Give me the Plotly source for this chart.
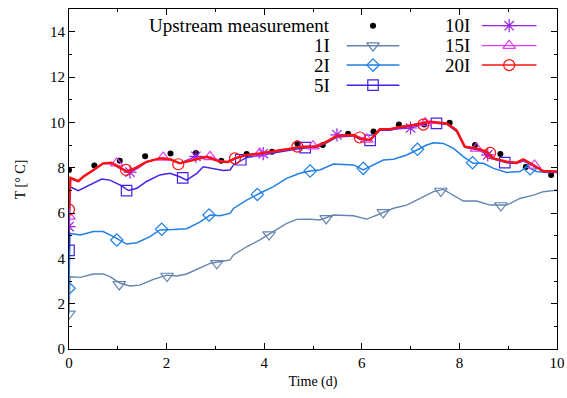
import plotly.graph_objects as go

FONT = "Liberation Serif"

# ---------------- data ----------------
up_x = [0, 0.52, 1.04, 1.56, 2.08, 2.6, 3.12, 3.64, 4.16, 4.68, 5.2, 5.72, 6.24, 6.76, 7.28, 7.8, 8.32, 8.84, 9.36, 9.88]
up_y = [7.9, 8.1, 8.3, 8.5, 8.62, 8.65, 8.3, 8.6, 8.7, 9.07, 9.0, 9.5, 9.6, 9.9, 9.9, 9.98, 9.0, 8.6, 8.03, 7.68]

i1_x = [0, 0.02, 0.23, 0.5, 0.7, 0.84, 1.05, 1.25, 1.45, 1.73, 2.0, 2.21, 2.41, 2.68, 2.89, 3.09, 3.3, 3.37, 3.64, 3.91,
        4.19, 4.46, 4.67, 4.94, 5.14, 5.42, 5.83, 6.1, 6.31, 6.51, 6.65, 6.92, 7.19, 7.47, 7.67, 7.88, 8.08, 8.35, 8.63,
        8.97, 9.24, 9.52, 9.72, 10.0]
i1_y = [1.55, 3.19, 3.16, 3.31, 3.31, 3.19, 2.9, 2.78, 2.82, 3.07, 3.26, 3.22, 3.31, 3.56, 3.78, 3.85, 3.93, 4.15, 4.51, 4.81,
        5.18, 5.54, 5.72, 5.73, 5.69, 5.91, 5.88, 5.73, 5.91, 6.1, 6.21, 6.35, 6.64, 6.94, 7.04, 6.79, 6.53, 6.53, 6.35,
        6.35, 6.64, 6.79, 6.94, 7.01]
i1_mx = [0, 1.03, 2.01, 3.03, 4.1, 5.27, 6.44, 7.62, 8.85]
i1_my = [1.55, 2.85, 3.22, 3.78, 5.05, 5.76, 6.03, 6.97, 6.33]

i2_x = [0, 0.02, 0.23, 0.5, 0.7, 0.91, 1.18, 1.39, 1.66, 1.86, 2.14, 2.41, 2.68, 2.89, 3.09, 3.3, 3.37, 3.64, 3.91, 4.19,
        4.46, 4.73, 4.94, 5.14, 5.42, 5.83, 6.03, 6.24, 6.44, 6.65, 6.92, 7.13, 7.33, 7.47, 7.67, 7.88, 8.08, 8.28, 8.49,
        8.7, 8.97, 9.24, 9.38, 9.58, 9.79, 10.0]
i2_y = [2.68, 5.1, 5.03, 5.18, 5.18, 4.96, 4.63, 4.69, 4.96, 5.25, 5.27, 5.31, 5.6, 5.91, 5.88, 5.98, 6.2, 6.57, 6.87, 7.16,
        7.53, 7.75, 7.85, 7.9, 8.16, 8.12, 7.9, 8.12, 8.34, 8.37, 8.56, 8.78, 9.0, 9.1, 9.07, 8.85, 8.49, 8.19, 8.19,
        7.97, 7.79, 7.83, 8.04, 7.83, 7.79, 7.79]
i2_mx = [0, 0.98, 1.9, 2.87, 3.86, 4.94, 6.03, 7.14, 8.27, 9.45]
i2_my = [2.68, 4.81, 5.28, 5.91, 6.82, 7.85, 7.97, 8.81, 8.22, 7.95]

i5_x = [0, 0.02, 0.19, 0.36, 0.67, 0.84, 1.05, 1.22, 1.39, 1.59, 1.86, 2.07, 2.27, 2.41, 2.62, 2.75, 2.96, 3.16, 3.3, 3.37,
        3.64, 3.91, 4.19, 4.46, 4.73, 5.07, 5.28, 5.49, 5.83, 5.96, 6.17, 6.37, 6.58, 6.78, 7.06, 7.4, 7.74, 7.94, 8.11,
        8.35, 8.56, 8.7, 8.97, 9.17, 9.31, 9.52, 9.72, 10.0]
i5_y = [4.35, 7.16, 6.99, 7.16, 7.5, 7.45, 7.23, 6.99, 7.09, 7.39, 7.68, 7.75, 7.6, 7.45, 7.75, 8.04, 7.97, 7.87, 7.9, 8.12,
        8.45, 8.55, 8.65, 8.75, 8.85, 8.9, 9.1, 9.35, 9.4, 9.25, 9.2, 9.65, 9.65, 9.75, 9.85, 9.98, 9.92, 9.6, 8.9,
        8.8, 8.65, 8.38, 8.22, 8.18, 8.3, 8.08, 7.82, 7.8]
i5_mx = [0, 1.18, 2.33, 3.52, 4.84, 6.17, 7.53, 8.93]
i5_my = [4.35, 6.99, 7.55, 8.35, 8.88, 9.2, 9.95, 8.22]

i10_x = [0, 0.03, 0.19, 0.29, 0.5, 0.7, 0.87, 1.01, 1.25, 1.4, 1.59, 1.86, 2.07, 2.27, 2.6, 2.82, 3.09, 3.25, 3.4, 3.64,
         3.98, 4.19, 4.46, 4.73, 5.07, 5.28, 5.49, 5.83, 5.96, 6.17, 6.37, 6.58, 7.0, 7.4, 7.74, 7.94, 8.11, 8.35, 8.58,
         8.7, 8.97, 9.17, 9.31, 9.52, 9.72, 10.0]
i10_y = [5.4, 7.5, 7.38, 7.58, 7.88, 8.17, 8.2, 8.0, 7.8, 7.95, 8.24, 8.4, 8.36, 8.2, 8.5, 8.47, 8.28, 8.24, 8.4, 8.55,
         8.62, 8.7, 8.8, 8.92, 8.92, 9.13, 9.45, 9.43, 9.27, 9.21, 9.68, 9.69, 9.75, 10.0, 9.94, 9.64, 8.92, 8.83, 8.56,
         8.4, 8.25, 8.21, 8.35, 8.1, 7.84, 7.82]
i10_mx = [0, 1.25, 2.6, 3.98, 5.49, 7.0, 8.58]
i10_my = [5.4, 7.8, 8.5, 8.62, 9.45, 9.75, 8.56]

i15_x = [0, 0.03, 0.19, 0.29, 0.5, 0.7, 0.98, 1.18, 1.35, 1.59, 1.93, 2.07, 2.27, 2.55, 2.89, 3.09, 3.25, 3.4, 3.64, 3.91,
         4.19, 4.46, 4.73, 5.0, 5.28, 5.49, 5.83, 6.1, 6.17, 6.37, 6.58, 6.78, 7.06, 7.3, 7.74, 7.94, 8.11, 8.35, 8.56,
         8.7, 8.97, 9.17, 9.31, 9.54, 9.72, 10.0]
i15_y = [5.85, 7.52, 7.4, 7.6, 7.9, 8.2, 8.12, 7.85, 7.98, 8.27, 8.45, 8.38, 8.2, 8.35, 8.48, 8.32, 8.26, 8.42, 8.56, 8.63,
         8.71, 8.81, 8.93, 8.95, 9.15, 9.4, 9.44, 9.25, 9.22, 9.7, 9.7, 9.8, 9.88, 9.97, 9.95, 9.66, 8.93, 8.85, 8.71,
         8.41, 8.26, 8.22, 8.37, 8.1, 7.85, 7.83]
i15_mx = [0, 0.98, 1.93, 2.89, 3.91, 5.0, 6.1, 7.3, 8.35, 9.54]
i15_my = [5.85, 8.2, 8.45, 8.48, 8.63, 8.95, 9.25, 9.97, 8.85, 8.1]

i20_x = [0, 0.03, 0.19, 0.29, 0.5, 0.7, 0.87, 1.01, 1.18, 1.35, 1.59, 1.86, 2.07, 2.27, 2.55, 2.82, 3.09, 3.25, 3.4, 3.64,
         3.91, 4.19, 4.46, 4.73, 5.07, 5.28, 5.49, 5.83, 5.96, 6.17, 6.37, 6.58, 6.78, 7.06, 7.4, 7.74, 7.94, 8.11, 8.35,
         8.56, 8.7, 8.97, 9.17, 9.31, 9.52, 9.72, 10.0]
i20_y = [6.15, 7.55, 7.41, 7.6, 7.9, 8.19, 8.22, 8.04, 7.83, 7.97, 8.26, 8.41, 8.37, 8.19, 8.34, 8.48, 8.27, 8.25, 8.41, 8.56,
         8.63, 8.71, 8.81, 8.93, 8.93, 9.15, 9.4, 9.44, 9.29, 9.22, 9.7, 9.7, 9.8, 9.88, 10.03, 9.95, 9.66, 8.93, 8.85,
         8.71, 8.41, 8.26, 8.22, 8.37, 8.12, 7.85, 7.83]
i20_mx = [0, 1.17, 2.24, 3.4, 4.68, 5.96, 7.26, 8.63]
i20_my = [6.15, 7.9, 8.15, 8.41, 8.93, 9.33, 9.9, 8.65]

# ---------------- styles ----------------
series = [
    ("1I", i1_x, i1_y, i1_mx, i1_my, "#6584b0", "triangle-down-open", 1.4, 11),
    ("2I", i2_x, i2_y, i2_mx, i2_my, "#1e7fe6", "diamond-open", 1.5, 9.5),
    ("5I", i5_x, i5_y, i5_mx, i5_my, "#4422e6", "square-open", 1.5, 10.5),
    ("10I", i10_x, i10_y, i10_mx, i10_my, "#9a22e6", "asterisk-open", 1.3, 11),
    ("15I", i15_x, i15_y, i15_mx, i15_my, "#de3ef0", "triangle-up-open", 1.3, 11),
    ("20I", i20_x, i20_y, i20_mx, i20_my, "#ff1010", "circle-open", 2.4, 11),
]

fig = go.Figure()

fig.add_trace(go.Scatter(x=up_x, y=up_y, mode="markers", showlegend=False,
                         marker=dict(color="black", size=6, symbol="circle")))

for name, lx, ly, mx, my, col, sym, lw, ms in series:
    fig.add_trace(go.Scatter(x=lx, y=ly, mode="lines", showlegend=False,
                             line=dict(color=col, width=lw)))
    fig.add_trace(go.Scatter(x=mx, y=my, mode="markers", showlegend=False,
                             marker=dict(color=col, size=ms, symbol=sym,
                                         line=dict(color=col, width=1.2))))

# ---------------- custom gnuplot-style key ----------------
key_labels = ["Upstream measurement", "1I", "2I", "5I", "10I", "15I", "20I"]
key_col = [0, 0, 0, 0, 1, 1, 1]
key_row = [0, 1, 2, 3, 0, 1, 2]
row_y = [0.951, 0.892, 0.835, 0.776]
col_text = [0.538, 0.825]
col_line = [(0.569, 0.677), (0.846, 0.958)]

annotations = []
for k, lab in enumerate(key_labels):
    c, r = key_col[k], key_row[k]
    annotations.append(dict(text=lab, xref="paper", yref="paper", x=col_text[c], y=row_y[r],
                            xanchor="right", yanchor="middle", showarrow=False,
                            font=dict(family=FONT, size=19, color="black")))
    x0, x1 = col_line[c]
    xm = (x0 + x1) / 2
    if k == 0:
        fig.add_trace(go.Scatter(x=[xm], y=[row_y[r]], xaxis="x2", yaxis="y2", mode="markers",
                                 showlegend=False, hoverinfo="skip",
                                 marker=dict(color="black", size=6)))
    else:
        name, lx, ly, mx, my, col, sym, lw, ms = series[k - 1]
        fig.add_trace(go.Scatter(x=[x0, x1], y=[row_y[r], row_y[r]], xaxis="x2", yaxis="y2",
                                 mode="lines", showlegend=False, hoverinfo="skip",
                                 line=dict(color=col, width=min(lw, 1.5))))
        fig.add_trace(go.Scatter(x=[xm], y=[row_y[r]], xaxis="x2", yaxis="y2", mode="markers",
                                 showlegend=False, hoverinfo="skip",
                                 marker=dict(color=col, size=ms, symbol=sym,
                                             line=dict(color=col, width=1.2))))

annotations.append(dict(text="T [° C]", xref="paper", yref="paper", x=-0.1, y=0.5,
                        xanchor="center", yanchor="middle", textangle=-90, showarrow=False,
                        font=dict(family=FONT, size=14, color="black")))

axis_common = dict(showline=True, linecolor="black", linewidth=1.2, mirror="ticks",
                   ticks="inside", ticklen=6, tickwidth=1, tickcolor="black",
                   showgrid=False, zeroline=False, automargin=False,
                   tickfont=dict(family=FONT, size=15, color="black"))

fig.update_layout(
    width=567, height=398,
    font=dict(family=FONT, size=14, color="black"),
    margin=dict(l=69, r=10, t=9, b=49, autoexpand=False),
    paper_bgcolor="white", plot_bgcolor="white",
    showlegend=False,
    annotations=annotations,
    xaxis=dict(range=[0, 10], dtick=2, tick0=0,
               minor=dict(ticks="inside", ticklen=3, dtick=1, tickcolor="black"),
               title=dict(text="Time (d)", font=dict(family=FONT, size=14, color="black"), standoff=6),
               **axis_common),
    yaxis=dict(range=[0, 15], dtick=2, tick0=0,
               minor=dict(ticks="inside", ticklen=3, dtick=1, tickcolor="black"),
               **axis_common),
    xaxis2=dict(overlaying="x", range=[0, 1], visible=False),
    yaxis2=dict(overlaying="y", range=[0, 1], visible=False),
)

fig.write_html("out.html")
